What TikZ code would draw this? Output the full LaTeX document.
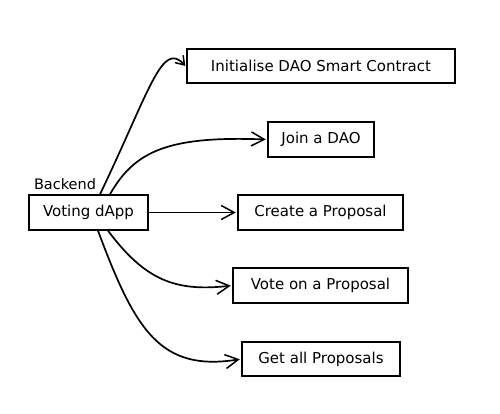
\documentclass[tikz,border=0pt]{standalone}
\usepackage{fontspec}
\setmainfont{DejaVu Sans}
\usetikzlibrary{arrows.meta}
\begin{document}
\begin{tikzpicture}[x=1pt,y=-1pt,
  box/.style={draw, line width=1.4pt, inner sep=0pt, font=\fontsize{15}{17}\selectfont},
  conn/.style={line width=1.7pt, shorten >=1.5pt, -{Straight Barb[length=13pt,width=14pt,line width=1.5pt]}},
  lbl/.style={font=\fontsize{14.5}{17}\selectfont, inner sep=0pt}]
\useasboundingbox (0,0) rectangle (500,413);
\node[box, minimum width=119, minimum height=35] (voting) at (88.5,212.5) {Voting dApp};
\node[lbl] (backend) at (65,184) {Backend};
\node[box, minimum width=268, minimum height=34] (init) at (321,66) {Initialise DAO Smart Contract};
\node[box, minimum width=106, minimum height=35] (join) at (321,139.5) {Join a DAO};
\node[box, minimum width=165, minimum height=35] (create) at (320.5,212.5) {Create a Proposal};
\node[box, minimum width=175, minimum height=35] (vote) at (320.5,285.5) {Vote on a Proposal};
\node[box, minimum width=158, minimum height=34] (get) at (321,359) {Get all Proposals};
\draw[conn, -{Straight Barb[length=8pt,width=11pt,line width=1.5pt]}] ([xshift=11.5pt]voting.north) .. controls (150,90) and (162,40) .. ([yshift=-1pt]init.west);
\draw[conn] ([xshift=21.5pt]voting.north) .. controls (135,150) and (170,136) .. (join.west);
\draw[conn] (voting.east) -- (create.west);
\draw[conn] ([xshift=19.5pt]voting.south) .. controls (145,280) and (175,292) .. (vote.west);
\draw[conn] ([xshift=9.5pt]voting.south) .. controls (135,330) and (160,372) .. (get.west);
\end{tikzpicture}
\end{document}
